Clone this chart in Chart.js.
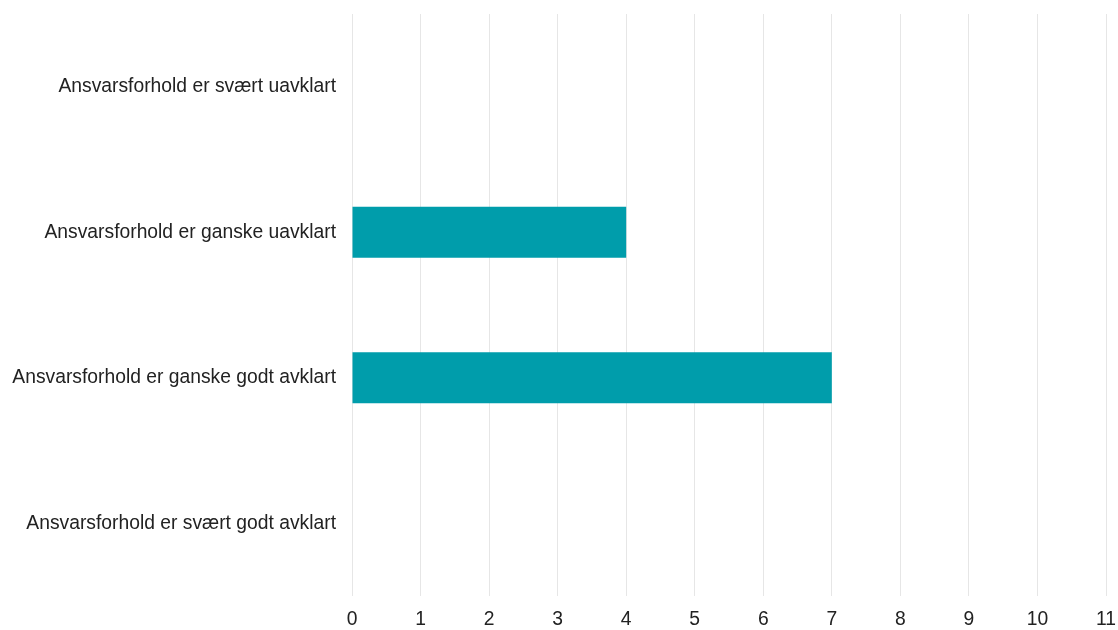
<!DOCTYPE html>
<html>
<head>
<meta charset="utf-8">
<script src="https://cdn.jsdelivr.net/npm/chart.js@4"></script>
<style>
  html, body { margin: 0; padding: 0; background: #fff; }
  #wrap { width: 1118px; height: 630px; }
</style>
</head>
<body>
<div id="wrap"><canvas id="chart"></canvas></div>
<script>
const categories = [
    'Ansvarsforhold er svært uavklart',
    'Ansvarsforhold er ganske uavklart',
    'Ansvarsforhold er ganske godt avklart',
    'Ansvarsforhold er svært godt avklart'
];
const answers = [0, 4, 7, 0];
const xMin = 0;
const xMax = 11;

const labelFont = { family: 'Liberation Sans, Arial, sans-serif', size: 19.3 };
const ctx = document.getElementById('chart');

new Chart(ctx, {
    type: 'bar',
    data: {
        labels: categories,
        datasets: [{
            data: answers,
            backgroundColor: '#009dab',
            borderWidth: 0,
            categoryPercentage: 0.35,
            barPercentage: 1
        }]
    },
    options: {
        indexAxis: 'y',
        responsive: true,
        maintainAspectRatio: false,
        animation: false,
        layout: {
            padding: { top: 14, right: 12, bottom: 0, left: 0 }
        },
        plugins: {
            legend: { display: false },
            tooltip: { enabled: false }
        },
        scales: {
            x: {
                min: xMin,
                max: xMax,
                afterFit: (scale) => {
                    scale.height = 34;
                    scale.paddingLeft = 0;
                    scale.paddingRight = 0;
                },
                ticks: {
                    stepSize: 1,
                    color: '#222',
                    padding: 12,
                    font: labelFont
                },
                grid: { color: '#e6e6e6', drawTicks: false },
                border: { display: false }
            },
            y: {
                afterFit: (scale) => {
                    scale.width = 352;
                    scale.paddingTop = 0;
                    scale.paddingBottom = 0;
                },
                ticks: {
                    color: '#222',
                    padding: 16,
                    font: labelFont
                },
                grid: { display: false, drawTicks: false },
                border: { display: false }
            }
        }
    }
});
</script>
</body>
</html>
